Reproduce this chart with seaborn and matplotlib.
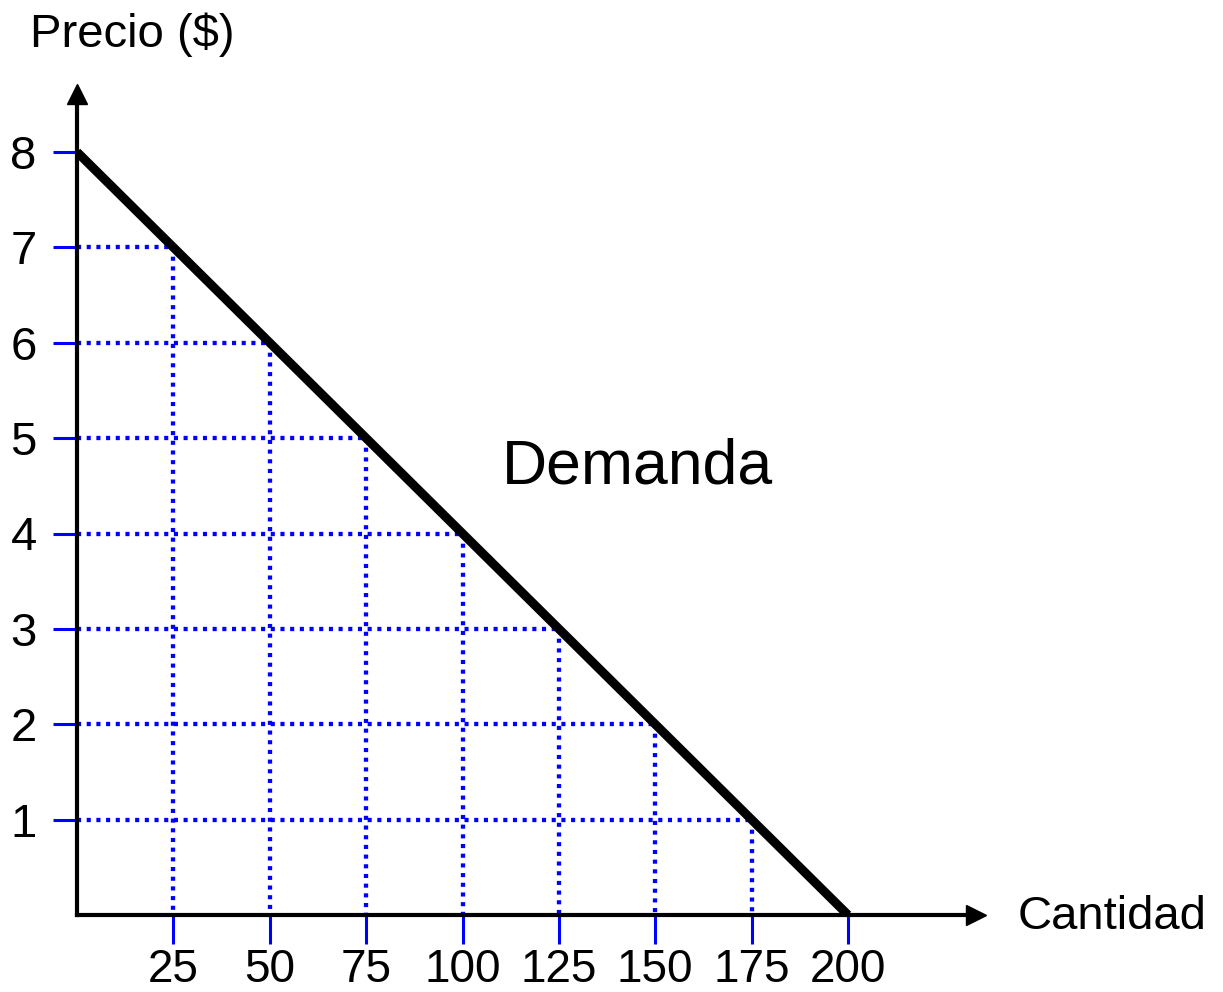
import matplotlib
matplotlib.use("Agg")
import matplotlib.pyplot as plt
import seaborn as sns
import pandas as pd

# Data
cantidad = [0, 25, 50, 75, 100, 125, 150, 175, 200]
precio = [8, 7, 6, 5, 4, 3, 2, 1, 0]
x_ticks = [25, 50, 75, 100, 125, 150, 175, 200]
y_ticks = [1, 2, 3, 4, 5, 6, 7, 8]
curve_label = "Demanda"
x_label = "Cantidad"
y_label = "Precio ($)"

sns.set_style("white")
plt.rcParams['font.family'] = ['Liberation Sans', 'DejaVu Sans']
plt.rcParams['text.color'] = 'black'
plt.rcParams['xtick.labelcolor'] = 'black'
plt.rcParams['ytick.labelcolor'] = 'black'

W, H = 1223, 992
fig = plt.figure(figsize=(W / 100, H / 100), dpi=100)
left_px, right_px, bottom_px, top_px = 77, 975.5, 915, 93.5
ax = fig.add_axes([left_px / W, 1 - bottom_px / H,
                   (right_px - left_px) / W, (bottom_px - top_px) / H])

xmax = (right_px - left_px) / 3.855
ymax = (bottom_px - top_px) / 95.375
ax.set_xlim(0, xmax)
ax.set_ylim(0, ymax)

df = pd.DataFrame({"Cantidad": cantidad, "Precio": precio})

# dotted guide lines
dot_style = (0, (0.95, 1.3))
for q, p in zip(cantidad, precio):
    if p > 0 and q > 0:
        ax.plot([0, q], [p, p], color="#0000ff", lw=3.1, ls=dot_style, zorder=2)
        ax.plot([q, q], [p, 0], color="#0000ff", lw=3.1, ls=dot_style, zorder=2)

# demand curve
sns.lineplot(data=df, x="Cantidad", y="Precio", color="black", lw=6.5,
             ax=ax, zorder=3, solid_capstyle="butt")

ax.text(145.5, 4.70, curve_label, fontsize=45, ha="center", va="center", color="black")

# axes styling
for s in ["top", "right"]:
    ax.spines[s].set_visible(False)
for s in ["left", "bottom"]:
    ax.spines[s].set_linewidth(3)
    ax.spines[s].set_color("black")
    ax.spines[s].set_zorder(4)

ax.plot([1], [0], marker=">", ms=14, color="black", transform=ax.transAxes, clip_on=False, zorder=5)
ax.plot([0], [1], marker="^", ms=14, color="black", transform=ax.transAxes, clip_on=False, zorder=5)

ax.set_xticks(x_ticks)
ax.set_xticklabels([str(v) for v in x_ticks])
ax.set_yticks(y_ticks)
ax.set_yticklabels([str(v) for v in y_ticks])
ax.tick_params(axis="x", direction="out", length=21, width=2.2, color="#0000ff",
               labelsize=33, pad=3, bottom=True, labelcolor="black")
ax.tick_params(axis="y", direction="out", length=17, width=2.2, color="#0000ff",
               labelsize=34, pad=12, left=True, labelcolor="black")
ax.set_xlabel("")
ax.set_ylabel("")

fig.text(1018 / W, 1 - 917 / H, x_label, fontsize=34, ha="left", va="center", color="black")
fig.text(30 / W, 1 - 35 / H, y_label, fontsize=34, ha="left", va="center", color="black")

fig.savefig("out.png", dpi=100)
